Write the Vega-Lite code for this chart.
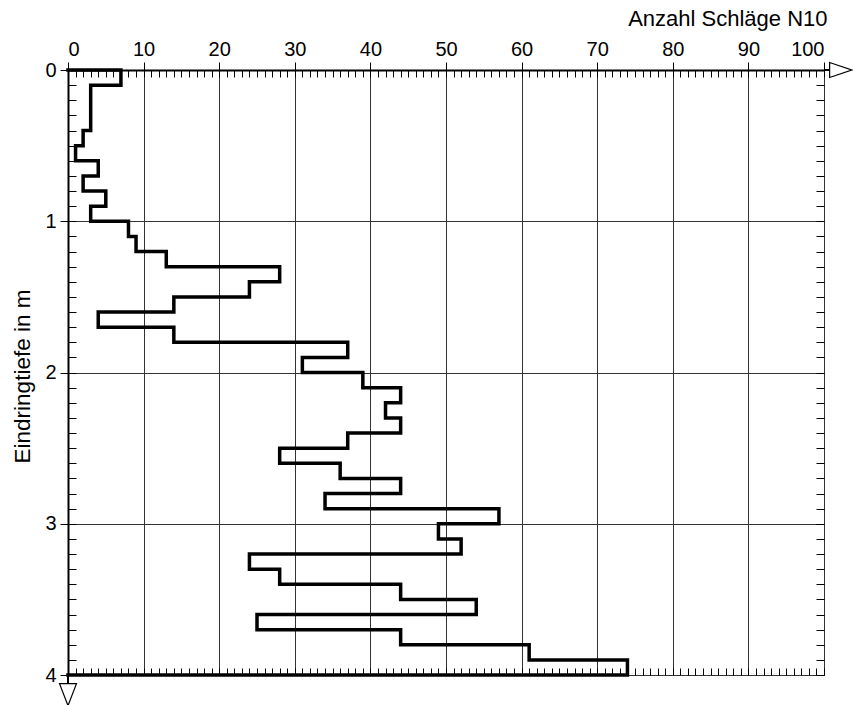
{
  "$schema": "https://vega.github.io/schema/vega-lite/v6.json",
  "width": 756,
  "height": 605,
  "autosize": {"type": "none"},
  "padding": {"left": 68, "top": 70, "right": 29, "bottom": 30},
  "background": "white",
  "config": {
    "view": {"stroke": null},
    "font": "Liberation Sans",
    "axis": {
      "labelFont": "Liberation Sans",
      "titleFont": "Liberation Sans",
      "labelColor": "black",
      "titleColor": "black",
      "tickColor": "black",
      "domainColor": "black",
      "gridColor": "#333333",
      "gridWidth": 1,
      "gridOpacity": 1
    }
  },
  "resolve": {"axis": {"x": "independent", "y": "independent"}},
  "layer": [
    {
      "data": {
        "values": [
          {"i": 0, "d": 0.0, "n": 0},
          {"i": 1, "d": 0.0, "n": 7},
          {"i": 2, "d": 0.1, "n": 3},
          {"i": 3, "d": 0.2, "n": 3},
          {"i": 4, "d": 0.3, "n": 3},
          {"i": 5, "d": 0.4, "n": 2},
          {"i": 6, "d": 0.5, "n": 1},
          {"i": 7, "d": 0.6, "n": 4},
          {"i": 8, "d": 0.7, "n": 2},
          {"i": 9, "d": 0.8, "n": 5},
          {"i": 10, "d": 0.9, "n": 3},
          {"i": 11, "d": 1.0, "n": 8},
          {"i": 12, "d": 1.1, "n": 9},
          {"i": 13, "d": 1.2, "n": 13},
          {"i": 14, "d": 1.3, "n": 28},
          {"i": 15, "d": 1.4, "n": 24},
          {"i": 16, "d": 1.5, "n": 14},
          {"i": 17, "d": 1.6, "n": 4},
          {"i": 18, "d": 1.7, "n": 14},
          {"i": 19, "d": 1.8, "n": 37},
          {"i": 20, "d": 1.9, "n": 31},
          {"i": 21, "d": 2.0, "n": 39},
          {"i": 22, "d": 2.1, "n": 44},
          {"i": 23, "d": 2.2, "n": 42},
          {"i": 24, "d": 2.3, "n": 44},
          {"i": 25, "d": 2.4, "n": 37},
          {"i": 26, "d": 2.5, "n": 28},
          {"i": 27, "d": 2.6, "n": 36},
          {"i": 28, "d": 2.7, "n": 44},
          {"i": 29, "d": 2.8, "n": 34},
          {"i": 30, "d": 2.9, "n": 57},
          {"i": 31, "d": 3.0, "n": 49},
          {"i": 32, "d": 3.1, "n": 52},
          {"i": 33, "d": 3.2, "n": 24},
          {"i": 34, "d": 3.3, "n": 28},
          {"i": 35, "d": 3.4, "n": 44},
          {"i": 36, "d": 3.5, "n": 54},
          {"i": 37, "d": 3.6, "n": 25},
          {"i": 38, "d": 3.7, "n": 44},
          {"i": 39, "d": 3.8, "n": 61},
          {"i": 40, "d": 3.9, "n": 74},
          {"i": 41, "d": 4.0, "n": 0}
        ]
      },
      "mark": {"type": "line", "interpolate": "step-before", "color": "black", "strokeWidth": 3.5, "strokeJoin": "miter", "strokeCap": "square"},
      "encoding": {
        "x": {
          "field": "n", "type": "quantitative",
          "scale": {"domain": [0, 100], "nice": false, "zero": false},
          "axis": {
            "orient": "top",
            "values": [0, 10, 20, 30, 40, 50, 60, 70, 80, 90, 100],
            "title": "Anzahl Schläge N10",
            "titleFontSize": 22,
            "titleFontWeight": "normal",
            "titleAlign": "right",
            "titleAnchor": "end",
            "titleBaseline": "alphabetic",
            "titleX": 759,
            "titleY": -45,
            "labelFontSize": 20,
            "labelPadding": 3,
            "labelOverlap": false,
            "tickSize": 8,
            "tickWidth": 1,
            "domainWidth": 2,
            "grid": true
          }
        },
        "y": {
          "field": "d", "type": "quantitative",
          "scale": {"domain": [0, 4], "nice": false, "zero": false, "reverse": true},
          "axis": {
            "orient": "left",
            "values": [0, 1, 2, 3, 4],
            "title": "Eindringtiefe in m",
            "titleFontSize": 22.5,
            "titleFontWeight": "normal",
            "titleAngle": -90,
            "titleAlign": "center",
            "titleBaseline": "middle",
            "titleX": -46,
            "titleY": 306,
            "labelFontSize": 20,
            "labelPadding": 4,
            "labelOverlap": false,
            "tickSize": 8,
            "tickWidth": 1,
            "domainWidth": 2,
            "grid": true
          }
        },
        "order": {"field": "i", "type": "quantitative"}
      }
    },
    {
      "data": {"values": [{}]},
      "mark": {"type": "rule", "color": "black", "strokeWidth": 2},
      "encoding": {
        "x": {
          "datum": 100, "type": "quantitative",
          "axis": {"orient": "top", "tickCount": 100, "tickSize": -7, "tickWidth": 1, "labels": false, "domain": false, "grid": false, "title": null}
        },
        "x2": {"datum": 100.8},
        "y": {
          "datum": 0, "type": "quantitative",
          "axis": {"orient": "left", "tickCount": 40, "tickSize": -8, "tickWidth": 1, "labels": false, "domain": false, "grid": false, "title": null}
        }
      }
    },
    {
      "data": {"values": [{}]},
      "mark": {"type": "rule", "color": "black", "strokeWidth": 2},
      "encoding": {
        "x": {
          "datum": 0, "type": "quantitative",
          "axis": {"orient": "bottom", "tickCount": 100, "tickSize": -7, "tickWidth": 1, "labels": false, "domain": false, "grid": false, "title": null}
        },
        "y": {
          "datum": 4, "type": "quantitative",
          "axis": {"orient": "right", "tickCount": 40, "tickSize": -8, "tickWidth": 1, "labels": false, "domain": false, "grid": false, "title": null}
        },
        "y2": {"datum": 4.053}
      }
    },
    {
      "data": {"values": [{}]},
      "mark": {"type": "point", "shape": "M-1,-0.68L1,0L-1,0.68Z", "size": 484, "filled": true, "fill": "white", "stroke": "black", "strokeWidth": 1.2, "opacity": 1},
      "encoding": {
        "x": {"datum": 102.2, "type": "quantitative", "axis": null},
        "y": {"datum": 0, "type": "quantitative", "axis": null}
      }
    },
    {
      "data": {"values": [{}]},
      "mark": {"type": "point", "shape": "M-0.77,-1L0.77,-1L0,1Z", "size": 484, "filled": true, "fill": "white", "stroke": "black", "strokeWidth": 1.2, "opacity": 1},
      "encoding": {
        "x": {"datum": 0, "type": "quantitative", "axis": null},
        "y": {"datum": 4.13, "type": "quantitative", "axis": null}
      }
    }
  ]
}
